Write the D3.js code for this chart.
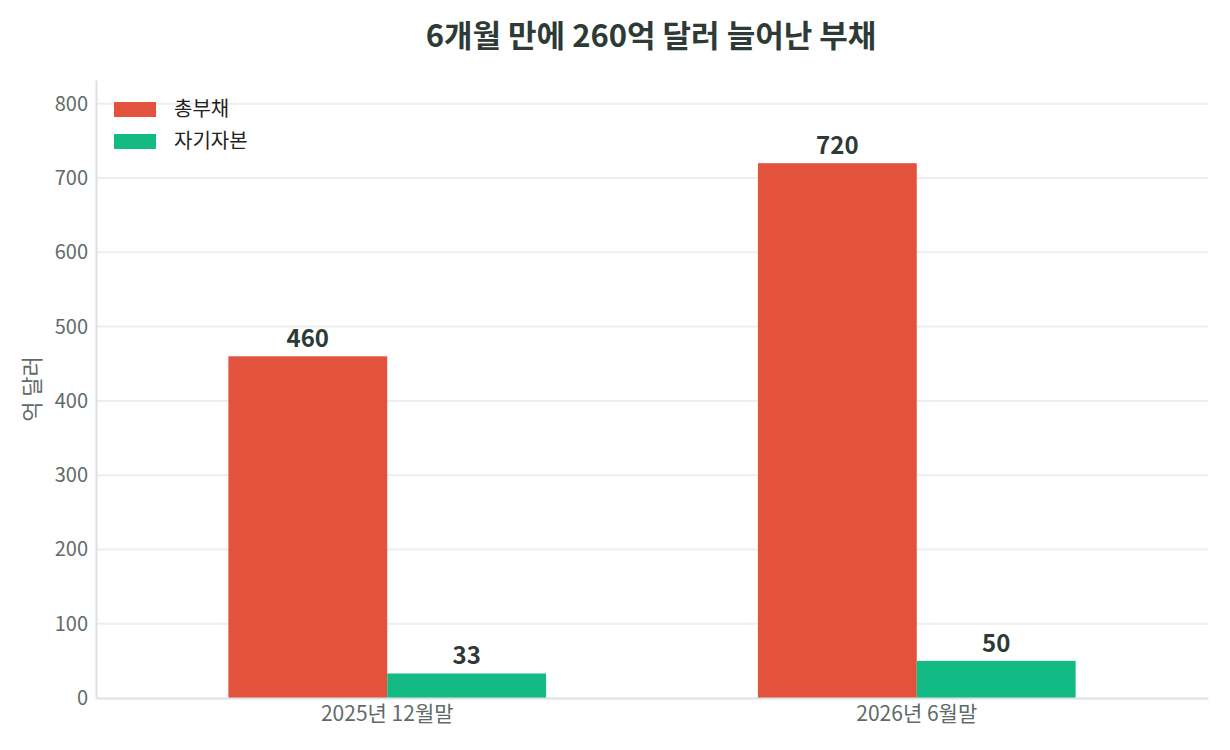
<!DOCTYPE html>
<html>
<head>
<meta charset="utf-8">
<script src="https://cdn.jsdelivr.net/npm/d3@7"></script>
<style>
  body { margin: 0; background: #fff; }
  svg, svg text { font-family: "Noto Sans CJK KR", "Noto Sans", sans-serif; }
</style>
</head>
<body>
<svg id="chart"></svg>
<script>
const categories = ["2025년 12월말", "2026년 6월말"];
const seriesNames = ["총부채", "자기자본"];
const debt = [460, 720];
const equity = [33, 50];
const yTicks = [0, 100, 200, 300, 400, 500, 600, 700, 800];
const seriesColors = ["#e2523c", "#14ba83"];

const width = 1230, height = 750;
const margin = { top: 80, right: 22, bottom: 52, left: 96 };
const font = '"Noto Sans CJK KR", "Noto Sans", sans-serif';

const svg = d3.select("#chart").attr("width", width).attr("height", height);

const x0 = d3.scaleBand()
    .domain(categories)
    .range([margin.left, width - margin.right])
    .paddingInner(0)
    .paddingOuter(0.05);

const x1 = d3.scaleBand()
    .domain(seriesNames)
    .range([x0.bandwidth() * 0.2, x0.bandwidth() * 0.8]);

const y = d3.scaleLinear()
    .domain([0, 832])
    .range([height - margin.bottom, margin.top]);

// gridlines
svg.append("g")
    .selectAll("line")
    .data(yTicks.slice(1))
    .enter()
    .append("line")
    .attr("x1", margin.left)
    .attr("x2", width - margin.right)
    .attr("y1", d => y(d))
    .attr("y2", d => y(d))
    .attr("stroke", "#ecefee")
    .attr("stroke-width", 2);

// y axis
const yAxis = d3.axisLeft(y).tickValues(yTicks).tickSize(0).tickPadding(8);
const gy = svg.append("g")
    .attr("transform", "translate(" + margin.left + ",0)")
    .call(yAxis)
    .attr("font-family", font);
gy.select(".domain").attr("stroke", "#dde2e1").attr("stroke-width", 2);
gy.selectAll("text")
    .attr("fill", "#5f6b68")
    .style("font-size", "20px");

// bars
const rows = categories.map((c, i) => ({ cat: c, values: [debt[i], equity[i]] }));

const groups = svg.append("g")
    .selectAll("g")
    .data(rows)
    .enter()
    .append("g")
    .attr("transform", d => "translate(" + x0(d.cat) + ",0)");

groups.selectAll("rect")
    .data(d => d.values.map((v, j) => ({ name: seriesNames[j], value: v, j: j })))
    .enter()
    .append("rect")
    .attr("x", d => x1(d.name))
    .attr("width", x1.bandwidth())
    .attr("y", d => y(d.value))
    .attr("height", d => y(0) - y(d.value))
    .attr("fill", d => seriesColors[d.j]);

groups.selectAll("text.val")
    .data(d => d.values.map((v, j) => ({ name: seriesNames[j], value: v })))
    .enter()
    .append("text")
    .attr("class", "val")
    .attr("x", d => x1(d.name) + x1.bandwidth() / 2)
    .attr("y", d => y(d.value) - 9)
    .attr("text-anchor", "middle")
    .attr("fill", "#2d3a36")
    .style("font-size", "24px")
    .style("font-weight", "700")
    .text(d => d.value);

// x axis
const xAxis = d3.axisBottom(x0).tickSize(0).tickPadding(8);
const gx = svg.append("g")
    .attr("transform", "translate(0," + y(0) + ")")
    .call(xAxis)
    .attr("font-family", font);
gx.select(".domain").attr("stroke", "#dde2e1").attr("stroke-width", 2);
gx.selectAll("text")
    .attr("fill", "#5f6b68")
    .style("font-size", "21px");

// y axis label
svg.append("text")
    .attr("transform", "translate(40," + (margin.top + (y(0) - margin.top) / 2) + ") rotate(-90)")
    .attr("text-anchor", "middle")
    .attr("fill", "#5f6b68")
    .style("font-size", "22px")
    .text("억 달러");

// title
svg.append("text")
    .attr("x", 651)
    .attr("y", 47)
    .attr("text-anchor", "middle")
    .attr("fill", "#2d3a36")
    .style("font-size", "31px")
    .style("font-weight", "700")
    .text("6개월 만에 260억 달러 늘어난 부채");

// legend
const legend = svg.append("g")
    .selectAll("g")
    .data(seriesNames)
    .enter()
    .append("g")
    .attr("transform", (d, i) => "translate(114," + (102 + i * 32) + ")");
legend.append("rect")
    .attr("width", 42)
    .attr("height", 15)
    .attr("fill", (d, i) => seriesColors[i]);
legend.append("text")
    .attr("x", 60)
    .attr("y", 14)
    .attr("fill", "#222")
    .style("font-size", "20px")
    .text(d => d);
</script>
</body>
</html>
